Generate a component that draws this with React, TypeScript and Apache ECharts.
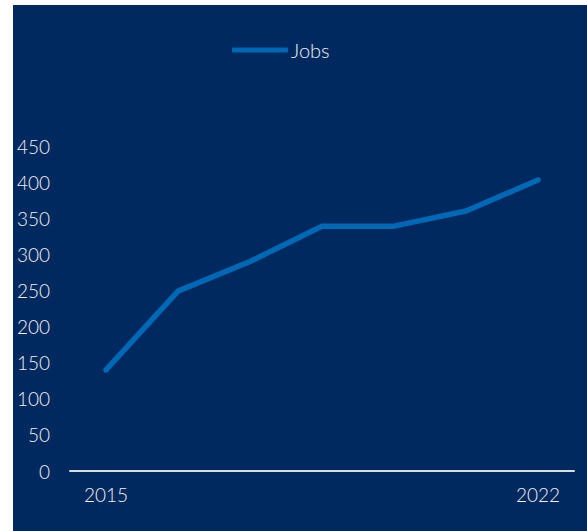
import React, { useEffect, useRef } from "react";
import * as echarts from "echarts";

const years = ["2015", "2016", "2017", "2018", "2019", "2020", "2022"];
const jobs = [140, 249, 290, 339, 339, 360, 403];
const yTicks = { min: 0, max: 450, interval: 50 };

export default function App() {
  const ref = useRef<HTMLDivElement>(null);
  useEffect(() => {
    if (!ref.current) return;
    const chart = echarts.init(ref.current, undefined, { renderer: "svg" });
    const font = "Lato, 'Open Sans', sans-serif";
    chart.setOption({
      animation: false,
      backgroundColor: "#002960",
      textStyle: { fontFamily: font },
      legend: {
        data: ["Jobs"],
        left: 219,
        top: 35,
        padding: 0,
        icon: "roundRect",
        itemWidth: 56,
        itemHeight: 5,
        textStyle: { color: "#f0f0f0", fontSize: 20, fontWeight: 300, fontFamily: font, padding: [0, 0, 0, -2] },
      },
      grid: { left: 57, right: 13, top: 141, bottom: 60, containLabel: false },
      xAxis: {
        type: "category",
        data: years,
        boundaryGap: true,
        axisLine: { show: true, lineStyle: { color: "#dcdcdc", width: 2 } },
        axisTick: { show: false },
        axisLabel: {
          color: "#f0f0f0",
          fontSize: 19,
          fontWeight: 300,
          fontFamily: font,
          margin: 14,
          interval: (i: number) => i === 0 || i === years.length - 1,
        },
        splitLine: { show: false },
      },
      yAxis: {
        type: "value",
        min: yTicks.min,
        max: yTicks.max,
        interval: yTicks.interval,
        axisLine: { show: false },
        axisTick: { show: false },
        splitLine: { show: false },
        axisLabel: { color: "#f0f0f0", fontSize: 19, fontWeight: 300, fontFamily: font, margin: 20 },
      },
      series: [
        {
          name: "Jobs",
          type: "line",
          data: jobs,
          symbol: "none",
          itemStyle: { color: "#0068B4" },
          lineStyle: { color: "#0068B4", width: 5.5, cap: "round", join: "round" },
        },
      ],
    });
    return () => chart.dispose();
  }, []);
  return (
    <div
      ref={ref}
      style={{ position: "absolute", left: 13, top: 5, width: 574, height: 526 }}
    />
  );
}
